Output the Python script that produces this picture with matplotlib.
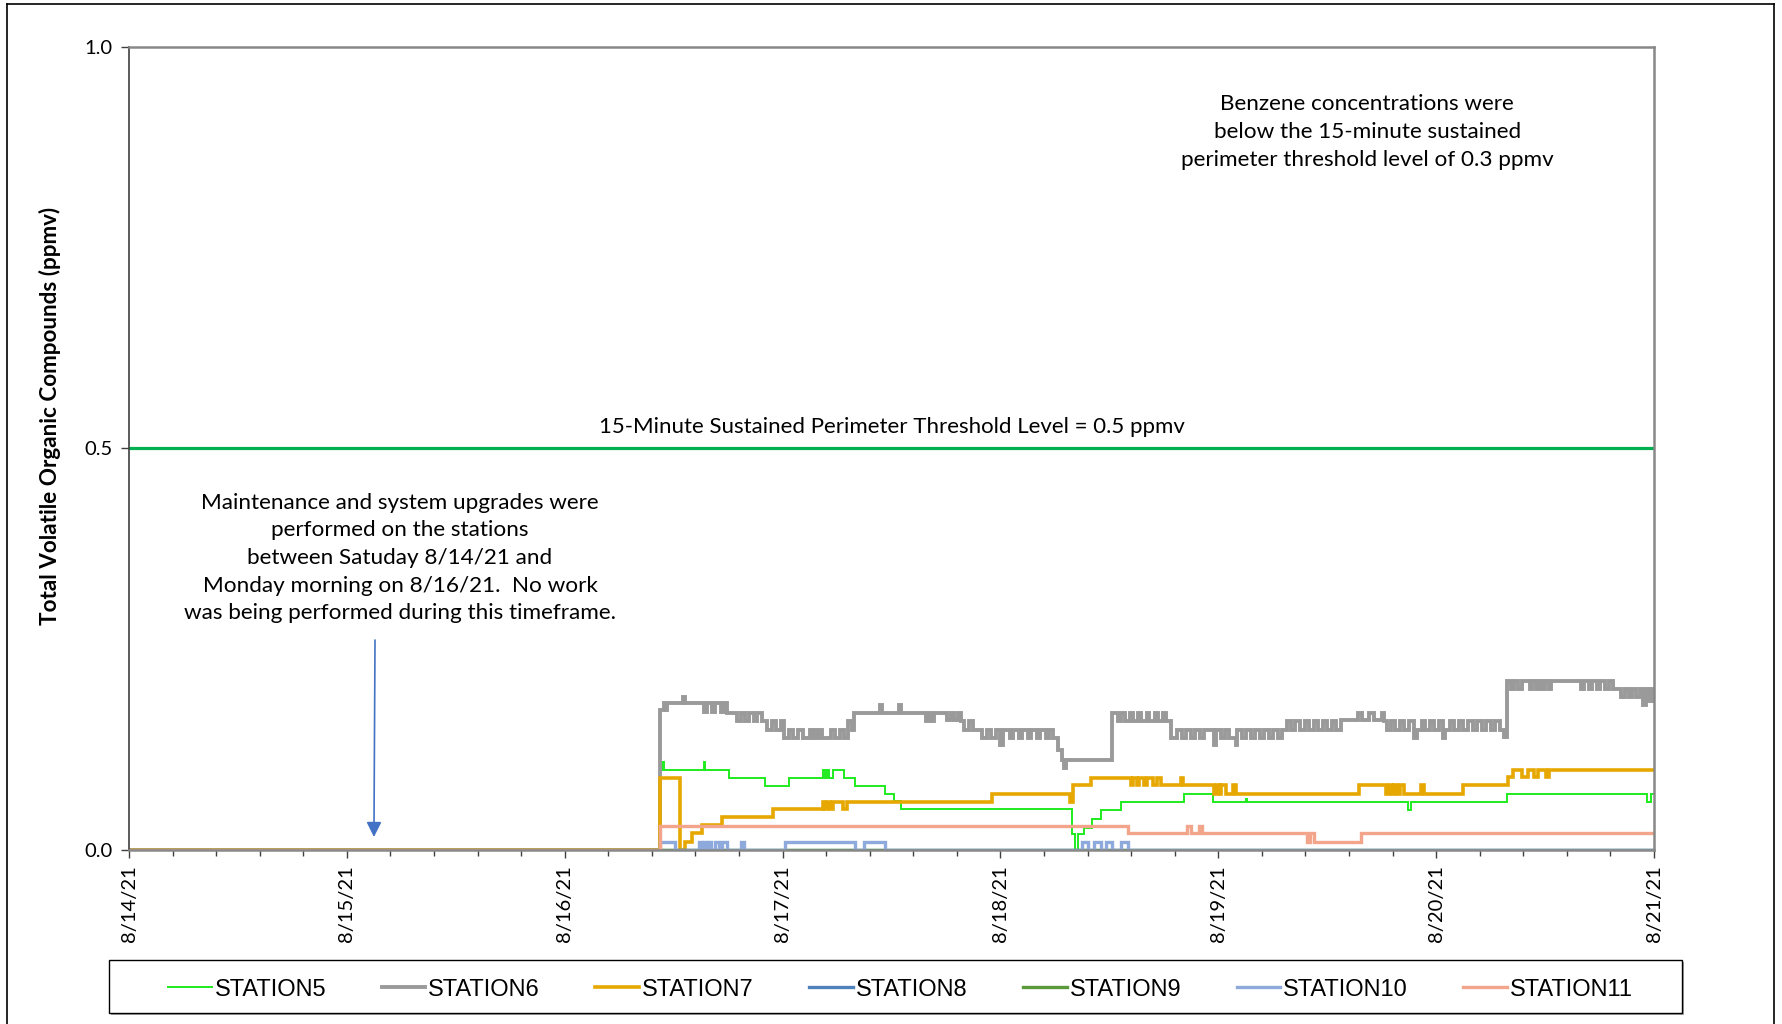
import numpy as np
import pandas as pd
import matplotlib
matplotlib.use("Agg")
import matplotlib.pyplot as plt
import matplotlib.dates as mdates
from matplotlib.ticker import MultipleLocator, FixedLocator
from matplotlib.lines import Line2D
from matplotlib.patches import Rectangle

'''Data: hours after 8/14/21 00:00 where each reading changes, and the new value'''
start = pd.Timestamp("2021-08-14")

s5_t = [0, 58.5, 58.7, 58.9, 63.3, 63.5, 66.1, 70.1, 72.7, 76.5, 76.7, 76.9, 77.1, 77.5, 78.8,
        80.0, 83.3, 84.3, 85.0, 103.9, 104.2, 104.5, 105.2, 106.1, 107.1, 109.3, 116.2, 119.4,
        123.0, 123.2, 140.9, 141.2, 151.8, 167.2, 167.7, 168]
s5_v = [0, 0.100, 0.110, 0.100, 0.110, 0.100, 0.090, 0.080, 0.090, 0.100, 0.090, 0.100, 0.090, 0.100, 0.090,
        0.080, 0.070, 0.061, 0.051, 0.020, 0.0, 0.020, 0.027, 0.039, 0.050, 0.060, 0.070, 0.060,
        0.064, 0.060, 0.050, 0.060, 0.070, 0.060, 0.070, 0.070]

s6_t = [0, 58.5, 58.9, 59.1, 59.3, 61.0, 61.2, 63.3, 63.7, 64.2, 64.6, 65.2, 65.5, 65.9,
        67.0, 67.4, 67.9, 68.3, 68.8, 69.2, 69.7, 70.3, 70.8, 71.3, 71.8,
        72.1, 72.7, 73.2, 73.7, 74.2, 75.0, 75.2, 75.5, 75.7, 76.0, 76.3, 77.3, 77.8, 78.3, 78.8,
        79.2, 79.6, 79.9, 82.7, 82.9, 84.8, 85.0, 87.8, 88.1, 88.4, 88.7,
        90.1, 90.5, 90.9, 91.3, 91.6, 92.0, 92.5, 93.0,
        93.5, 94.0, 94.5, 95.0, 95.5, 96.0, 96.3, 97.0, 97.4, 98.0, 98.4, 99.0, 99.4, 100.0, 100.4,
        101.0, 101.4, 101.8, 102.3, 102.8, 103.0, 103.2,
        108.3, 108.9, 109.3, 109.7, 110.3, 110.6, 111.2, 111.5, 112.1, 112.4, 113.0, 113.3, 113.9, 114.2,
        114.8, 115.4, 116.0, 116.4, 117.0, 117.4, 118.0, 118.4, 119.5, 119.7, 120.3, 120.7,
        121.2, 121.9, 122.1, 122.6, 123.0, 123.6, 124.0, 124.6, 125.0, 125.6, 126.0, 126.6, 127.0,
        127.6, 128.0, 128.5, 129.0, 129.5, 130.0, 130.5, 131.0, 131.5, 132.0, 132.5, 133.0, 133.5,
        135.4, 135.8, 136.6, 137.2, 138.0, 138.3,
        138.6, 139.0, 139.5, 140.0, 140.5, 141.0, 141.6, 141.9, 142.4, 142.8, 143.3, 143.8, 144.3,
        144.7, 145.0, 145.5, 146.0, 146.5, 147.0, 147.5, 148.0, 148.5, 149.0, 149.5, 150.0, 150.5, 151.0,
        151.5, 151.8, 152.2, 152.6, 153.0, 153.4, 154.3, 154.6, 155.0, 155.3, 155.7, 156.0, 156.4, 156.7,
        159.9, 160.3, 160.8, 161.2, 161.7, 162.1, 162.6, 163.0, 163.5,
        164.0, 164.4, 164.8, 165.2, 165.6, 166.0, 166.4, 166.8, 167.1, 167.4, 167.7, 168]
s6_v = [0, 0.174, 0.183, 0.174, 0.183, 0.191, 0.183, 0.172, 0.183, 0.172, 0.183, 0.172, 0.183, 0.170,
        0.160, 0.170, 0.160, 0.170, 0.160, 0.170, 0.160, 0.149, 0.160, 0.149, 0.160,
        0.139, 0.149, 0.139, 0.149, 0.139, 0.149, 0.139, 0.149, 0.139, 0.149, 0.139, 0.149, 0.139, 0.149, 0.139,
        0.160, 0.149, 0.170, 0.180, 0.170, 0.180, 0.170, 0.160, 0.170, 0.160, 0.170,
        0.162, 0.170, 0.162, 0.170, 0.160, 0.149, 0.160, 0.149,
        0.149, 0.139, 0.149, 0.139, 0.149, 0.131, 0.149, 0.139, 0.149, 0.139, 0.149, 0.139, 0.149, 0.139, 0.149,
        0.139, 0.149, 0.139, 0.125, 0.112, 0.102, 0.112,
        0.170, 0.160, 0.170, 0.160, 0.170, 0.160, 0.170, 0.160, 0.170, 0.160, 0.170, 0.160, 0.170, 0.160,
        0.139, 0.149, 0.139, 0.149, 0.139, 0.149, 0.139, 0.149, 0.131, 0.149, 0.139, 0.149,
        0.139, 0.131, 0.149, 0.139, 0.149, 0.139, 0.149, 0.139, 0.149, 0.139, 0.149, 0.139, 0.149,
        0.160, 0.149, 0.160, 0.149, 0.160, 0.149, 0.160, 0.149, 0.160, 0.149, 0.160, 0.149, 0.162,
        0.170, 0.162, 0.170, 0.162, 0.170, 0.160,
        0.149, 0.160, 0.149, 0.160, 0.149, 0.160, 0.139, 0.149, 0.160, 0.149, 0.160, 0.149, 0.160,
        0.139, 0.149, 0.160, 0.149, 0.160, 0.149, 0.160, 0.149, 0.160, 0.149, 0.160, 0.149, 0.160, 0.149,
        0.141, 0.210, 0.200, 0.210, 0.200, 0.210, 0.200, 0.210, 0.200, 0.210, 0.200, 0.210, 0.200, 0.210,
        0.200, 0.210, 0.200, 0.210, 0.200, 0.210, 0.200, 0.210, 0.200,
        0.200, 0.190, 0.200, 0.190, 0.200, 0.190, 0.200, 0.180, 0.200, 0.185, 0.200, 0.185]

s7_t = [0, 58.5, 60.7, 61.3, 62.0, 63.1, 65.3, 70.9, 76.4, 76.6, 76.9, 77.2, 77.5, 78.6, 79.1,
        95.1, 103.7, 104.0, 105.95, 110.4, 110.6, 111.0, 111.3, 111.8, 112.1, 112.8, 113.2, 113.7,
        115.9, 116.1, 119.5, 119.8, 120.2, 120.3, 120.8, 121.6, 121.9, 135.5, 138.5, 138.8, 139.1,
        139.4, 139.7, 140.0, 140.5, 142.3, 142.7, 146.9, 151.9, 152.5, 153.4, 154.1, 154.8, 155.2,
        156.1, 156.4, 168]
s7_v = [0, 0.090, 0.0, 0.010, 0.021, 0.031, 0.041, 0.051, 0.060, 0.051, 0.060, 0.051, 0.060, 0.051, 0.060,
        0.070, 0.060, 0.081, 0.090, 0.081, 0.090, 0.081, 0.090, 0.081, 0.090, 0.081, 0.090, 0.081,
        0.090, 0.081, 0.070, 0.081, 0.070, 0.081, 0.070, 0.081, 0.070, 0.081, 0.070, 0.081, 0.070,
        0.081, 0.070, 0.081, 0.070, 0.081, 0.070, 0.081, 0.091, 0.100, 0.091, 0.100, 0.091, 0.100,
        0.091, 0.100, 0.100]

s8_t = [0, 168]
s8_v = [0, 0]

s9_t = [0, 168]
s9_v = [0, 0]

s10_t = [0, 58.5, 60.2, 62.8, 63.1, 63.3, 63.6, 63.8, 64.1, 64.6, 65.0, 65.3, 65.9, 67.4, 67.7,
         72.3, 80.0, 81.0, 83.3, 105.0, 105.6, 106.3, 107.1, 107.6, 108.3, 109.3, 110.0, 168]
s10_v = [0, 0.0095, 0, 0.0095, 0, 0.0095, 0, 0.0095, 0, 0.0095, 0, 0.0095, 0, 0.0095, 0,
         0.0095, 0, 0.0095, 0, 0.0095, 0, 0.0095, 0, 0.0095, 0, 0.0095, 0, 0]

s11_t = [0, 58.5, 110.0, 116.6, 117.0, 117.9, 118.2, 129.8, 130.1, 130.5, 135.7, 168]
s11_v = [0, 0.030, 0.021, 0.030, 0.021, 0.030, 0.021, 0.010, 0.021, 0.010, 0.021, 0.021]

names = ["STATION5", "STATION6", "STATION7", "STATION8", "STATION9", "STATION10", "STATION11"]
times = [s5_t, s6_t, s7_t, s8_t, s9_t, s10_t, s11_t]
values = [s5_v, s6_v, s7_v, s8_v, s9_v, s10_v, s11_v]
colors = ["#1EEB1E", "#9A9A9A", "#E6A800", "#4F81BD", "#5B9A3A", "#8EA9DB", "#F2A58A"]
widths = [1.4, 2.8, 2.6, 2.4, 2.4, 2.4, 2.4]

threshold = 0.5
font = "Lato"

fig = plt.figure(figsize=(17.82, 10.24), dpi=100)
ax = fig.add_axes([0.0724, 0.1699, 0.8558, 0.7845])

# series
for name, t, v, c, w in zip(names, times, values, colors, widths):
    x = start + pd.to_timedelta(t, unit="h")
    ax.plot(x, v, drawstyle="steps-post", color=c, lw=w, label=name, solid_joinstyle="miter")

# threshold line
ax.axhline(threshold, color="#00B050", lw=2.3, zorder=1)

ax.set_xlim(start, start + pd.Timedelta(days=7))
ax.set_ylim(0, 1.0)

ax.xaxis.set_major_locator(mdates.DayLocator())
ax.xaxis.set_major_formatter(mdates.DateFormatter("%-m/%-d/%y"))
ax.xaxis.set_minor_locator(MultipleLocator(0.2))
ax.yaxis.set_major_locator(FixedLocator([0, 0.5, 1.0]))
ax.yaxis.set_major_formatter(plt.FuncFormatter(lambda v, p: "%.1f" % v))

ax.tick_params(axis="x", which="major", direction="out", length=6, width=1, color="#404040",
               labelsize=14.5, labelrotation=90, pad=5)
ax.tick_params(axis="x", which="minor", direction="out", length=4, width=1, color="#404040")
ax.tick_params(axis="y", direction="out", length=6, width=1, color="#404040", labelsize=14.5, pad=6)
for lab in ax.get_xticklabels() + ax.get_yticklabels():
    lab.set_fontfamily(font)

ax.spines["left"].set_color("#404040")
ax.spines["left"].set_linewidth(1.2)
for s in ["top", "right", "bottom"]:
    ax.spines[s].set_color("#888888")
    ax.spines[s].set_linewidth(1.8)

# annotations
ax.text(0.812, 0.894, "Benzene concentrations were\nbelow the 15-minute sustained\nperimeter threshold level of 0.3 ppmv",
        transform=ax.transAxes, ha="center", va="center", fontsize=16.2, family=font, linespacing=1.5)
ax.text(0.5, 0.527, "15-Minute Sustained Perimeter Threshold Level = 0.5 ppmv",
        transform=ax.transAxes, ha="center", va="center", fontsize=16.0, family=font)
ax.text(0.1777, 0.3635, "Maintenance and system upgrades were\nperformed on the stations\n"
        "between Satuday 8/14/21 and\nMonday morning on 8/16/21.  No work\n"
        "was being performed during this timeframe.",
        transform=ax.transAxes, ha="center", va="center", fontsize=16.2, family=font, linespacing=1.48)
ax.annotate("", xy=(0.1606, 0.0162), xytext=(0.1613, 0.2614), xycoords="axes fraction",
            arrowprops=dict(arrowstyle="-|>,head_length=0.9,head_width=0.45", color="#4472C4", lw=1.2,
                            shrinkA=0, shrinkB=0))

fig.text(0.028, 1 - 416 / 1024, "Total Volatile Organic Compounds (ppmv)", rotation=90,
         ha="center", va="center", fontsize=16.2, fontweight="bold", family=font)

# legend frame, drawn on its own so the entries can sit inside with Excel-like padding
fig.add_artist(Rectangle((111 / 1782, 1 - 1015 / 1024), 1573 / 1782, 53 / 1024, transform=fig.transFigure,
                         facecolor="#A6A6A6", edgecolor="none", zorder=4))
fig.add_artist(Rectangle((109 / 1782, 1 - 1013 / 1024), 1573 / 1782, 53 / 1024, transform=fig.transFigure,
                         facecolor="white", edgecolor="black", lw=1.0, zorder=5))
leg = fig.legend(loc="center left", bbox_to_anchor=(168 / 1782, 1 - 1012 / 1024, 1465 / 1782, 45 / 1024),
                 mode="expand", ncol=7, frameon=False, handlelength=1.85, handletextpad=0.12,
                 borderpad=0, borderaxespad=0, prop={"family": "Liberation Sans", "size": 17})
leg.set_zorder(6)

# outer border
for xs, ys in [([7 / 1782, 7 / 1782], [0, 1 - 4 / 1024]),
               ([7 / 1782, 1774 / 1782], [1 - 4 / 1024, 1 - 4 / 1024]),
               ([1774 / 1782, 1774 / 1782], [1 - 4 / 1024, 0])]:
    fig.add_artist(Line2D(xs, ys, color="black", lw=1.2, transform=fig.transFigure))

fig.savefig("out.png", dpi=100)
